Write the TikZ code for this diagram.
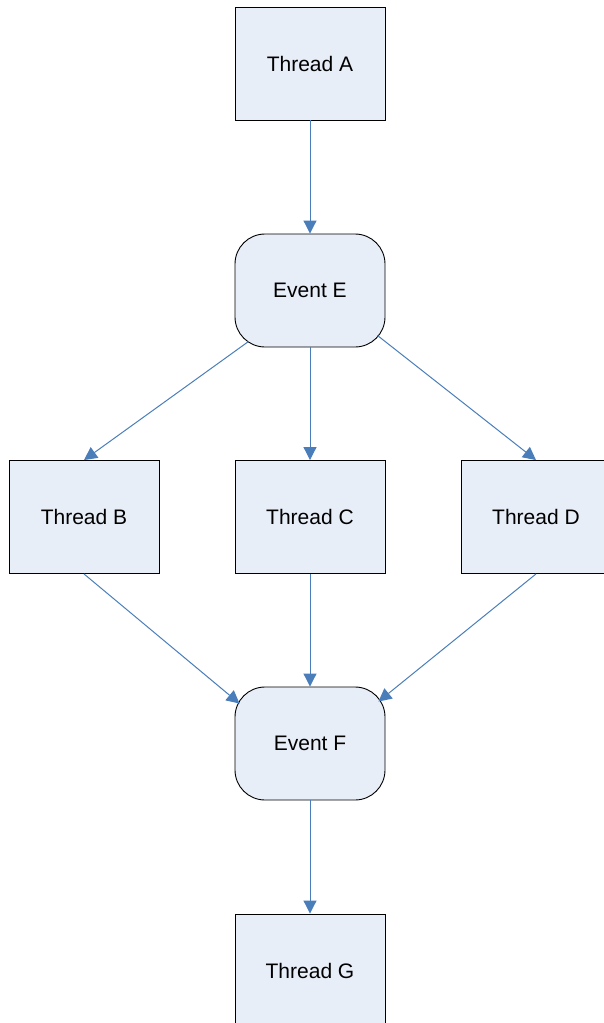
\documentclass[tikz,border=0pt]{standalone}
\usepackage{fontspec}
\setmainfont{Liberation Sans}
\usetikzlibrary{arrows.meta,calc}
\definecolor{boxfill}{HTML}{E8EEF8}
\definecolor{arrowblue}{HTML}{4A7EBB}
\begin{document}
\begin{tikzpicture}[x=1pt,y=-1pt,
  thread/.style={draw=black, line width=0.9pt, fill=boxfill, minimum width=150pt, minimum height=113pt, inner sep=0pt, font=\fontsize{21}{25}\selectfont},
  event/.style={thread, rounded corners=30pt},
  arr/.style={draw=arrowblue, line width=1pt, -{Triangle[length=13pt,width=13pt]}}]
\useasboundingbox (0,0) rectangle (604,1023);
\clip (0,0) rectangle (604,1023);
\node[thread] (A) at (310,63.5) {Thread A};
\node[event]  (E) at (310,290.5) {Event E};
\node[thread] (B) at (84,517) {Thread B};
\node[thread] (C) at (310,517) {Thread C};
\node[thread] (D) at (536,517) {Thread D};
\node[event]  (F) at (310,743.5) {Event F};
\node[thread] (G) at (310,970.5) {Thread G};
\draw[arr] (A.south) -- (E.north);
\draw[arr] ($(E.south west)+(14,-6)$) -- (B.north);
\draw[arr] (E.south) -- (C.north);
\draw[arr] ($(E.south east)+(-8,-12)$) -- (D.north);
\draw[arr] (B.south) -- ($(F.north west)+(5,17)$);
\draw[arr] (C.south) -- (F.north);
\draw[arr] (D.south) -- ($(F.north east)+(-7,15)$);
\draw[arr] (F.south) -- (G.north);
\end{tikzpicture}
\end{document}
